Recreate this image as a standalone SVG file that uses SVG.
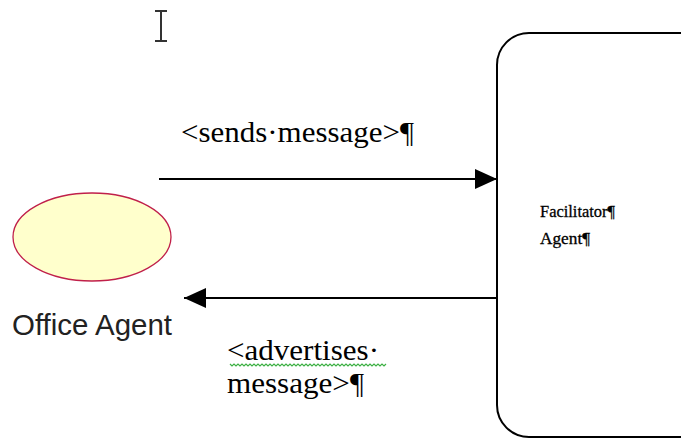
<svg xmlns="http://www.w3.org/2000/svg" width="681" height="441" viewBox="0 0 681 441">
  <style>
    .serif { font-family: "Liberation Serif", "Times New Roman", serif; fill: #000; }
    .sans { font-family: "Liberation Sans", Arial, sans-serif; fill: #222; }
    .conn { stroke: #000; stroke-width: 2; fill: none; }
  </style>
  <defs>
    <marker id="arrow" viewBox="0 0 22 20" refX="22" refY="10" markerWidth="22" markerHeight="20" markerUnits="userSpaceOnUse" orient="auto">
      <path d="M0,0 L22,10 L0,20 z" fill="#000"/>
    </marker>
  </defs>
  <rect width="681" height="441" fill="#fff"/>

  <!-- text cursor -->
  <g id="cursor" stroke="#333" stroke-width="2" fill="none">
    <path d="M155,11 H167 M155,41 H167 M161,11 V41"/>
  </g>

  <!-- Office Agent -->
  <g id="office-agent">
    <ellipse cx="92" cy="237" rx="79" ry="44" fill="#ffffcc" stroke="#c0204a" stroke-width="1.3"/>
    <text class="sans" x="12" y="335" font-size="29" textLength="160" lengthAdjust="spacingAndGlyphs">Office Agent</text>
  </g>

  <!-- Facilitator Agent -->
  <g id="facilitator-agent">
    <rect x="497" y="33" width="220" height="404" rx="32" ry="32" fill="#fff" stroke="#000" stroke-width="2"/>
    <text class="serif" x="540" y="217" font-size="17" stroke="#000" stroke-width="0.3" textLength="75" lengthAdjust="spacingAndGlyphs">Facilitator¶</text>
    <text class="serif" x="540" y="244" font-size="17" stroke="#000" stroke-width="0.3" textLength="50" lengthAdjust="spacingAndGlyphs">Agent¶</text>
  </g>

  <!-- connectors -->
  <g id="connectors">
    <line class="conn" x1="159" y1="179" x2="497" y2="179" marker-end="url(#arrow)"/>
    <line class="conn" x1="497" y1="298" x2="184" y2="298" marker-end="url(#arrow)"/>
    <text class="serif" x="181" y="142" font-size="29" textLength="233" lengthAdjust="spacingAndGlyphs">&lt;sends·message&gt;¶</text>
    <text class="serif" x="227" y="360" font-size="29" textLength="152" lengthAdjust="spacingAndGlyphs">&lt;advertises·</text>
    <!-- spell-check squiggle -->
    <path d="M230,364 l2,2 l2,-2 l2,2 l2,-2 l2,2 l2,-2 l2,2 l2,-2 l2,2 l2,-2 l2,2 l2,-2 l2,2 l2,-2 l2,2 l2,-2 l2,2 l2,-2 l2,2 l2,-2 l2,2 l2,-2 l2,2 l2,-2 l2,2 l2,-2 l2,2 l2,-2 l2,2 l2,-2 l2,2 l2,-2 l2,2 l2,-2 l2,2 l2,-2 l2,2 l2,-2 l2,2 l2,-2 l2,2 l2,-2 l2,2 l2,-2 l2,2 l2,-2 l2,2 l2,-2 l2,2 l2,-2 l2,2 l2,-2 l2,2 l2,-2 l2,2 l2,-2 l2,2 l2,-2 l2,2 l2,-2 l2,2 l2,-2 l2,2 l2,-2 l2,2 l2,-2 l2,2 l2,-2 l2,2 l2,-2 l2,2 l2,-2 l2,2 l2,-2 l2,2 l2,-2 l2,2 l2,-2" stroke="#3cb043" stroke-width="1.2" fill="none"/>
    <text class="serif" x="227" y="393" font-size="29" textLength="137" lengthAdjust="spacingAndGlyphs">message&gt;¶</text>
  </g>
</svg>
